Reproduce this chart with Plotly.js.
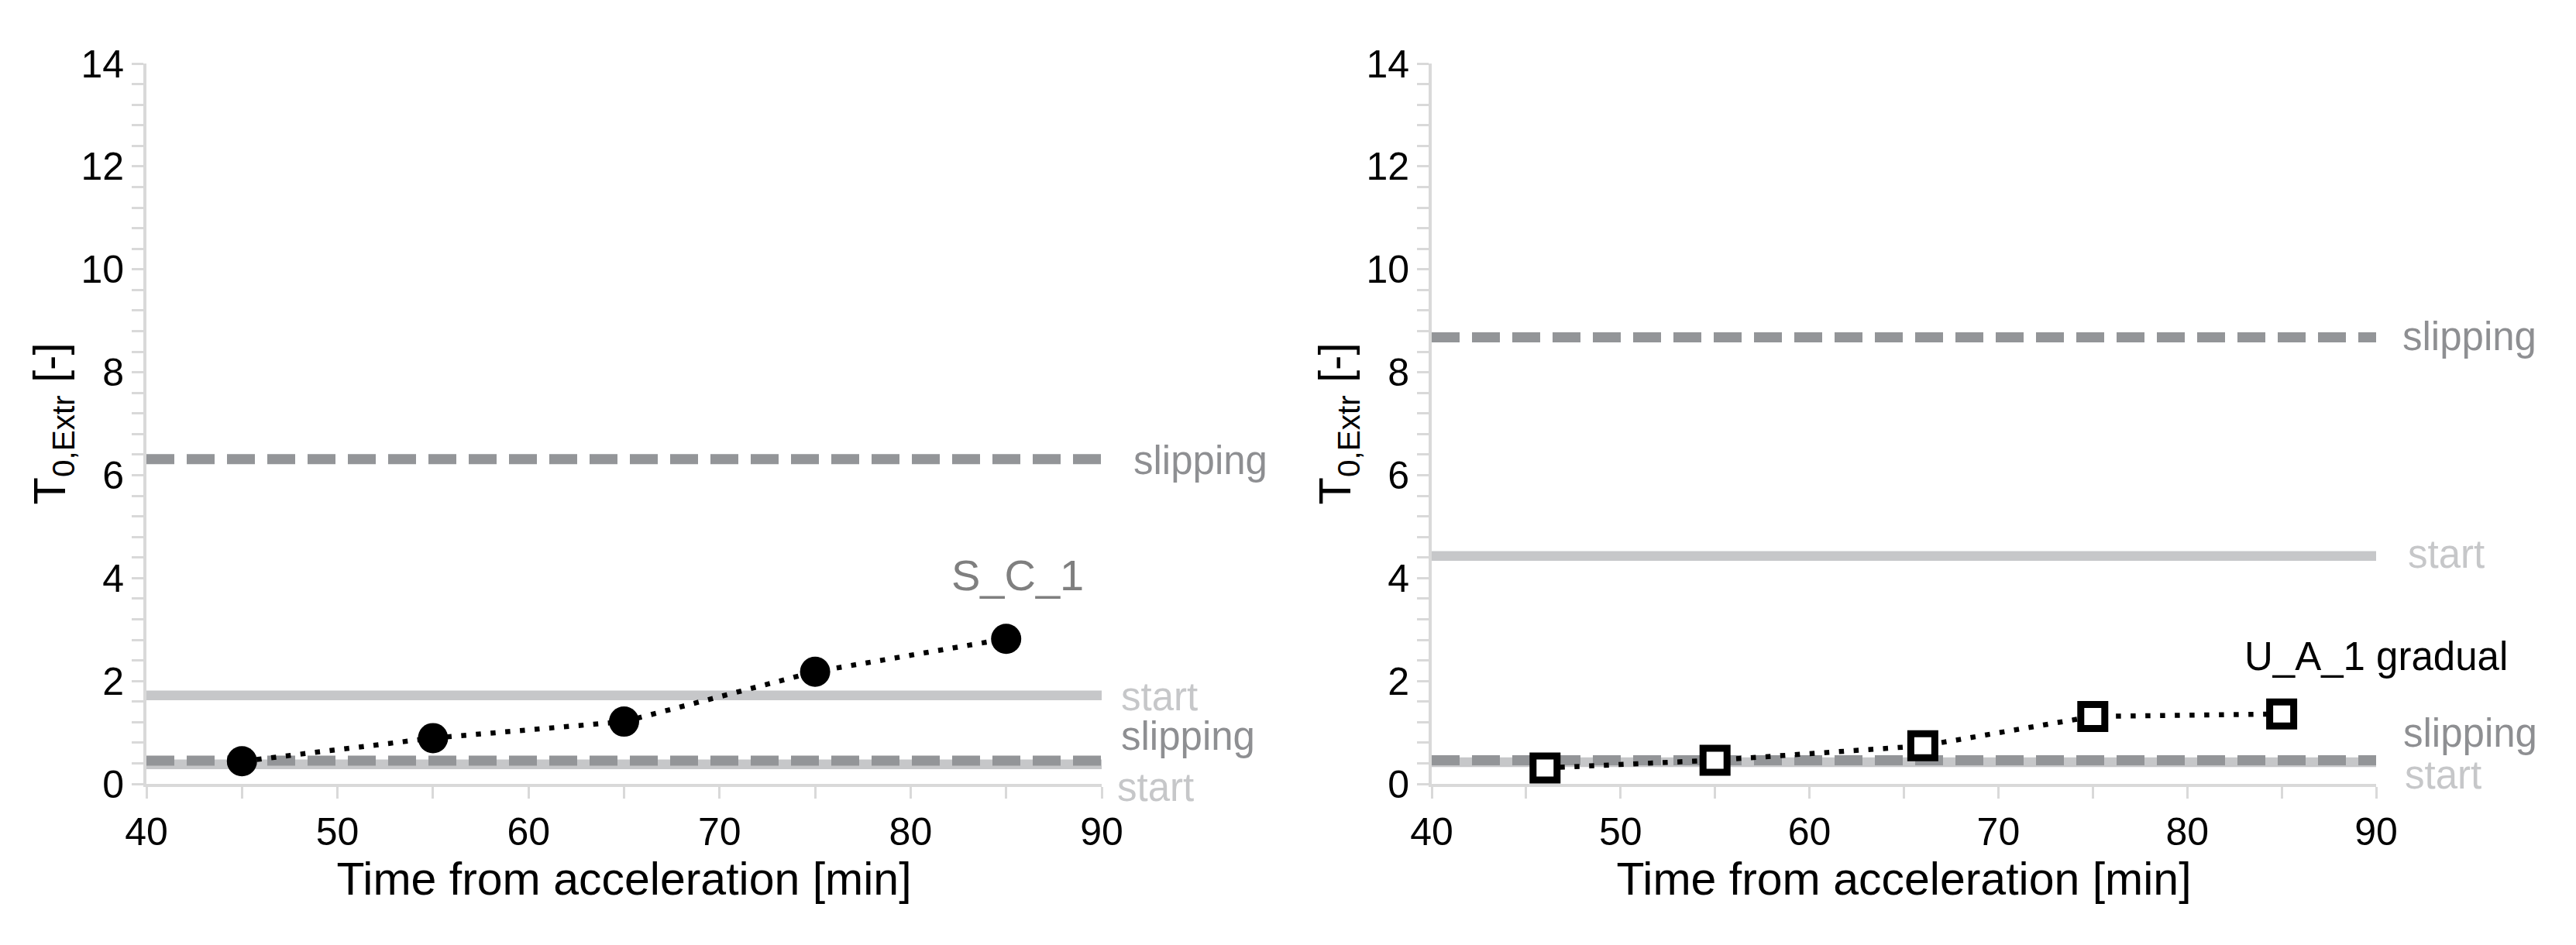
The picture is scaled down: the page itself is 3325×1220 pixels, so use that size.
<!DOCTYPE html>
<html>
<head>
<meta charset="utf-8">
<script src="https://cdn.plot.ly/plotly-3.0.1.min.js"></script>
<style>html,body{margin:0;padding:0;background:#fff;}#chart{width:3325px;height:1220px;}</style>
</head>
<body>
<div id="chart"></div>
<script>
// ---- data ----
const timeLeft = [45, 55, 65, 75, 85];
const valuesLeft = [0.44, 0.89, 1.21, 2.18, 2.82];          // S_C_1
const timeRight = [46, 55, 66, 75, 85];
const valuesRight = [0.31, 0.46, 0.74, 1.31, 1.36];         // U_A_1 gradual
const lineSpan = [40, 90];
const leftSlipping = [6.31, 0.45];   // dashed thresholds (left panel)
const leftStart = [1.72, 0.38];      // solid thresholds (left panel)
const rightSlipping = [8.68, 0.46];  // dashed thresholds (right panel)
const rightStart = [4.43, 0.42];     // solid thresholds (right panel)
const leftSeriesName = 'S_C_1';
const rightSeriesName = 'U_A_1 gradual';
const xTitle = 'Time from acceleration [min]';
const yTitle = 'T<sub>0,Extr</sub> [-]';
const xRange = [40, 90];
const yRange = [0, 14];

const FONT = 'Liberation Sans, Arial, sans-serif';
const DASH_COL = '#939598';
const START_COL = '#c6c7c9';

function hline(v, xa, ya, dashed) {
  return {
    x: lineSpan, y: [v, v], xaxis: xa, yaxis: ya, mode: 'lines', showlegend: false, hoverinfo: 'skip',
    line: dashed ? {color: DASH_COL, width: 13, dash: '36px,16px'} : {color: START_COL, width: 12.5}
  };
}

const traces = [];
leftStart.forEach(v => traces.push(hline(v, 'x', 'y', false)));
leftSlipping.forEach(v => traces.push(hline(v, 'x', 'y', true)));
rightStart.forEach(v => traces.push(hline(v, 'x2', 'y2', false)));
rightSlipping.forEach(v => traces.push(hline(v, 'x2', 'y2', true)));

traces.push({
  x: timeLeft, y: valuesLeft, xaxis: 'x', yaxis: 'y', mode: 'lines+markers', name: leftSeriesName, showlegend: false,
  line: {color: '#000', width: 6.5, dash: '6.5px,12.5px'},
  marker: {symbol: 'circle', size: 39, color: '#000'}
});
traces.push({
  x: timeRight, y: valuesRight, xaxis: 'x2', yaxis: 'y2', mode: 'lines+markers', name: rightSeriesName, showlegend: false,
  line: {color: '#000', width: 6.5, dash: '6.5px,12.5px'},
  marker: {symbol: 'square', size: 31, color: '#fff', line: {color: '#000', width: 9}}
});

function xAxis(domain, anchor) {
  return {
    domain: domain, anchor: anchor, range: xRange, dtick: 10, tick0: 40,
    showgrid: false, zeroline: false, showline: true, linecolor: '#d9d9d9', linewidth: 4,
    ticks: 'outside', ticklen: 15, tickwidth: 3, tickcolor: '#d9d9d9',
    minor: {dtick: 5, ticks: 'outside', ticklen: 15, tickwidth: 3, tickcolor: '#d9d9d9', showgrid: false},
    tickfont: {family: FONT, size: 50, color: '#000'},
    title: {text: xTitle, font: {family: FONT, size: 59, color: '#000'}, standoff: 8}
  };
}
function yAxis(domain, anchor) {
  return {
    domain: domain, anchor: anchor, range: yRange, dtick: 2, tick0: 0,
    showgrid: false, zeroline: false, showline: true, linecolor: '#d9d9d9', linewidth: 4,
    ticks: 'outside', ticklen: 15, tickwidth: 3, tickcolor: '#d9d9d9',
    minor: {dtick: 0.4, ticks: 'outside', ticklen: 15, tickwidth: 3, tickcolor: '#d9d9d9', showgrid: false},
    tickfont: {family: FONT, size: 50, color: '#000'},
    title: {text: yTitle, font: {family: FONT, size: 58, color: '#000'}, standoff: 2}
  };
}

const yDom = [1 - 1012 / 1220, 1 - 82 / 1220];

// label placed at axis values (converted to the axis domain so it can sit outside the range)
function lab(text, xv, yv, ax, color, size, anchor) {
  return {text: text,
    x: (xv - xRange[0]) / (xRange[1] - xRange[0]), y: (yv - yRange[0]) / (yRange[1] - yRange[0]),
    xref: ax[0] + ' domain', yref: ax[1] + ' domain', showarrow: false,
    xanchor: anchor || 'left', yanchor: 'middle', font: {family: FONT, size: size || 51, color: color}};
}
const L = ['x', 'y'], R = ['x2', 'y2'];

const annotations = [
  lab('slipping', 91.6, 6.28, L, '#8e8f92'),
  lab('start', 90.95, 1.70, L, '#c6c7c9'),
  lab('slipping', 90.95, 0.93, L, '#8e8f92'),
  lab('start', 90.75, -0.07, L, '#c6c7c9'),
  lab(leftSeriesName, 85.6, 4.05, L, '#7f7f7f', 56, 'center'),
  lab('slipping', 91.3, 8.70, R, '#8e8f92'),
  lab('start', 91.6, 4.46, R, '#c6c7c9'),
  lab(rightSeriesName, 82.95, 2.48, R, '#000', 51),
  lab('slipping', 91.35, 0.99, R, '#8e8f92'),
  lab('start', 91.45, 0.17, R, '#c6c7c9')
];

const layout = {
  width: 3325, height: 1220,
  margin: {l: 0, r: 0, t: 0, b: 0},
  paper_bgcolor: '#fff', plot_bgcolor: 'rgba(0,0,0,0)',
  showlegend: false,
  xaxis: xAxis([189 / 3325, 1422 / 3325], 'y'),
  yaxis: yAxis(yDom, 'x'),
  xaxis2: xAxis([1848 / 3325, 3067 / 3325], 'y2'),
  yaxis2: yAxis(yDom, 'x2'),
  annotations: annotations
};

Plotly.newPlot('chart', traces, layout, {staticPlot: true, displayModeBar: false});
</script>
</body>
</html>
